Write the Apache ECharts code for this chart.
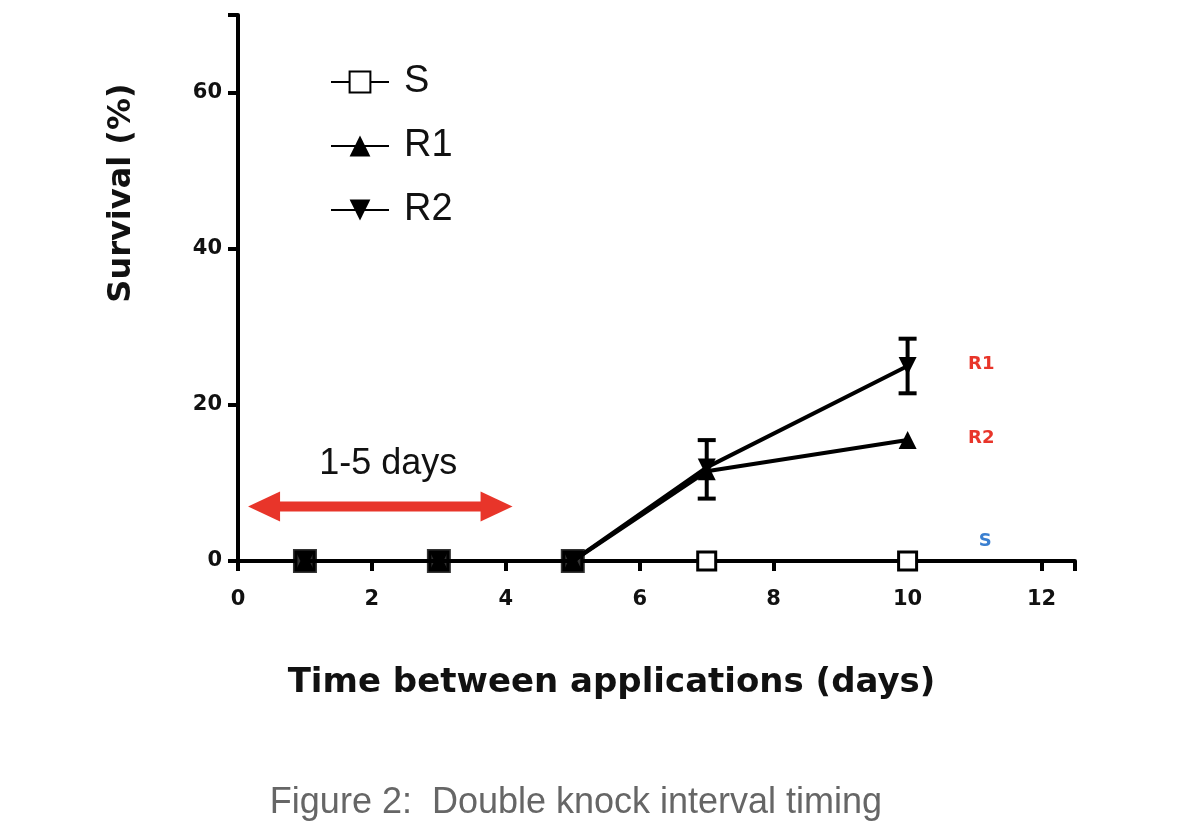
<!DOCTYPE html>
<html><head><meta charset="utf-8">
<script src="https://cdn.jsdelivr.net/npm/echarts@6/dist/echarts.min.js"></script>
<style>body{margin:0;background:#fff}#c{width:1196px;height:832px}</style>
</head><body><div id="c"></div>
<script>
var xDays = [1, 3, 5, 7, 10];
var sVals = [0, 0, 0, 0, 0];
var r1Vals = [0, 0, 0, 11.5, 15.5];
var r2Vals = [0, 0, 0, 12, 25];
var r2Err = [[7, 8, 15.5], [10, 21.5, 28.5]];
var earlyDays = [1, 3, 5];

function pts(xs, ys) { return xs.map(function (x, i) { return [x, ys[i]]; }); }

var chart = echarts.init(document.getElementById('c'));
var axisFont = { fontFamily: 'DejaVu Sans', fontWeight: 'bold', fontSize: 21, color: '#111' };
var option = {
    animation: false,
    grid: { left: 238, right: 121, top: 15, bottom: 271 },
    xAxis: {
        type: 'value', min: 0, max: 12.5, interval: 2,
        axisLine: { lineStyle: { color: '#000', width: 4 } },
        axisTick: { lineStyle: { color: '#000', width: 4 }, length: 10, inside: false },
        axisLabel: Object.assign({ margin: 28, formatter: function (v) { return v % 2 === 0 ? v : ''; } }, axisFont),
        splitLine: { show: false },
        name: 'Time between applications (days)', nameLocation: 'middle', nameGap: 105,
        nameTextStyle: { fontFamily: 'DejaVu Sans', fontWeight: 'bold', fontSize: 34, color: '#111', padding: [0, 90, 0, 0] }
    },
    yAxis: {
        type: 'value', min: 0, max: 70, interval: 20,
        axisLine: { show: true, lineStyle: { color: '#000', width: 4 } },
        axisTick: { show: true, lineStyle: { color: '#000', width: 4 }, length: 10 },
        axisLabel: Object.assign({ margin: 16, formatter: function (v) { return v > 60 ? '' : v; } }, axisFont),
        splitLine: { show: false },
        name: 'Survival (%)', nameLocation: 'middle', nameGap: 100, nameRotate: 90,
        nameTextStyle: { fontFamily: 'DejaVu Sans', fontWeight: 'bold', fontSize: 32, color: '#111', padding: [0, 0, 0, 190] }
    },
    legend: {
        orient: 'vertical', left: 325, top: 58, itemGap: 26, itemWidth: 58, itemHeight: 26,
        data: ['S', 'R1', 'R2'],
        textStyle: { fontFamily: 'Liberation Sans', fontSize: 38, color: '#111', padding: [0, 0, 0, 10] }
    },
    series: [
        { name: 'S', type: 'line', data: pts(xDays, sVals), symbol: 'rect', symbolSize: 18,
          itemStyle: { color: '#fff', borderColor: '#000', borderWidth: 3 }, lineStyle: { color: '#000', width: 4 }, z: 3 },
        { name: 'R1', type: 'line', data: pts(xDays, r1Vals), symbol: 'triangle', symbolSize: 18,
          itemStyle: { color: '#000' }, lineStyle: { color: '#000', width: 4 }, z: 4 },
        { name: 'R2', type: 'line', data: pts(xDays, r2Vals), symbol: 'triangle', symbolRotate: 180, symbolSize: 18,
          itemStyle: { color: '#000' }, lineStyle: { color: '#000', width: 4 }, z: 4 },
        { name: 'early', type: 'scatter', data: pts(earlyDays, [0, 0, 0]), symbol: 'rect', symbolSize: 24,
          itemStyle: { color: '#000' }, z: 20 },
        { name: 'err', type: 'custom', data: r2Err, z: 5,
          renderItem: function (params, api) {
              var lo = api.coord([api.value(0), api.value(1)]);
              var hi = api.coord([api.value(0), api.value(2)]);
              var w = 9, st = { stroke: '#000', lineWidth: 4 };
              return { type: 'group', children: [
                  { type: 'line', shape: { x1: lo[0], y1: lo[1], x2: hi[0], y2: hi[1] }, style: st },
                  { type: 'line', shape: { x1: lo[0] - w, y1: lo[1], x2: lo[0] + w, y2: lo[1] }, style: st },
                  { type: 'line', shape: { x1: hi[0] - w, y1: hi[1], x2: hi[0] + w, y2: hi[1] }, style: st }
              ] };
          } }
    ]
};
chart.setOption(option);

var a0 = chart.convertToPixel({ gridIndex: 0 }, [0.15, 7]);
var a1 = chart.convertToPixel({ gridIndex: 0 }, [4.1, 7]);
var lR1 = chart.convertToPixel({ gridIndex: 0 }, [11.1, 25]);
var lR2 = chart.convertToPixel({ gridIndex: 0 }, [11.1, 15.5]);
var lS = chart.convertToPixel({ gridIndex: 0 }, [11.1, 2.5]);
var red = '#e8352a', h = 15;
chart.setOption({ graphic: [
    { type: 'line', shape: { x1: a0[0] + 20, y1: a0[1], x2: a1[0] - 20, y2: a1[1] }, style: { stroke: red, lineWidth: 10 } },
    { type: 'polygon', shape: { points: [[a0[0], a0[1]], [a0[0] + 32, a0[1] - h], [a0[0] + 32, a0[1] + h]] }, style: { fill: red } },
    { type: 'polygon', shape: { points: [[a1[0], a1[1]], [a1[0] - 32, a1[1] - h], [a1[0] - 32, a1[1] + h]] }, style: { fill: red } },
    { type: 'text', x: (a0[0] + a1[0]) / 2 + 8, y: a0[1] - 42, style: { text: '1-5 days', fontFamily: 'Liberation Sans', fontSize: 36, fill: '#111', align: 'center', verticalAlign: 'middle' } },
    { type: 'text', x: lR1[0], y: lR1[1] - 2, style: { text: 'R1', fontFamily: 'DejaVu Sans', fontWeight: 'bold', fontSize: 18, fill: '#e8352a', align: 'center', verticalAlign: 'middle' } },
    { type: 'text', x: lR2[0], y: lR2[1] - 2, style: { text: 'R2', fontFamily: 'DejaVu Sans', fontWeight: 'bold', fontSize: 18, fill: '#e8352a', align: 'center', verticalAlign: 'middle' } },
    { type: 'text', x: lS[0] + 4, y: lS[1], style: { text: 'S', fontFamily: 'DejaVu Sans', fontWeight: 'bold', fontSize: 18, fill: '#3a7fd0', align: 'center', verticalAlign: 'middle' } },
    { type: 'text', x: 576, y: 803, style: { text: 'Figure 2:  Double knock interval timing', fontFamily: 'Liberation Sans', fontSize: 36, fill: '#666', align: 'center', verticalAlign: 'middle' } }
] });
</script></body></html>
